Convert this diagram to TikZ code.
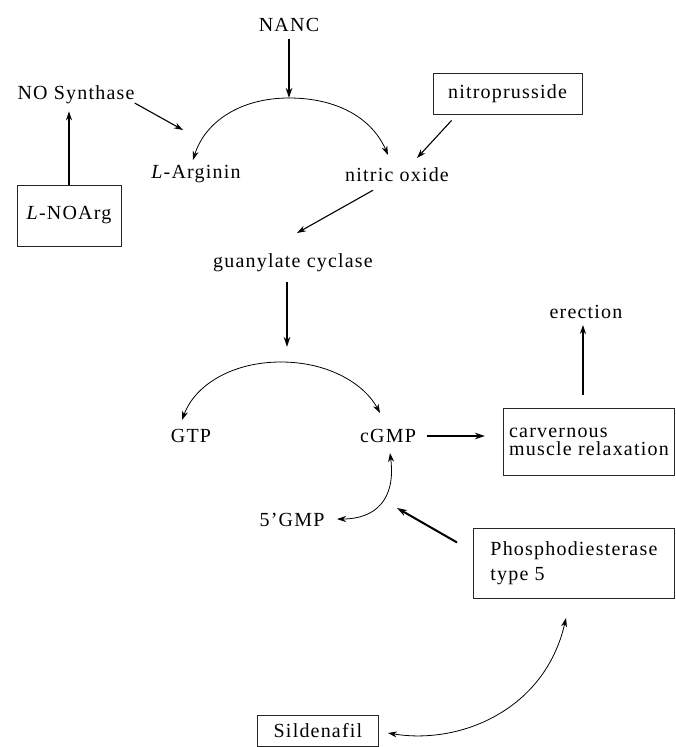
\documentclass[tikz,border=0pt]{standalone}
\usepackage{fontspec}
\setmainfont{Liberation Serif}[LetterSpace=6]
\usetikzlibrary{arrows.meta}
\begin{document}
\begin{tikzpicture}[x=1pt,y=-1pt,
  lbl/.style={inner sep=0pt, font=\fontsize{20}{20}\selectfont},
  box/.style={draw=black!85, line width=0.9pt, inner sep=0pt, font=\fontsize{20}{20}\selectfont},
  tip/.style={-{Stealth[length=9pt,width=6pt]}},
  medarrow/.style={tip, line width=1.1pt},
  thickarrow/.style={-{Stealth[length=10pt,width=6.5pt]}, line width=2pt},
  curvearrow/.style={tip, line width=0.8pt},
  twocurve/.style={{Stealth[length=9pt,width=6pt]}-{Stealth[length=9pt,width=6pt]}, line width=0.8pt}]
\useasboundingbox (0,0) rectangle (675,747);

% nodes
\node[lbl] (nanc) at (289,25) {NANC};
\node[lbl] (nos) at (76,95) {NO Synthase};
\node[lbl] (larg) at (196,174) {\textit{L}-Arginin};
\node[lbl] (nox) at (397,175) {nitric oxide};
\node[box, minimum width=149, minimum height=41] (nitro) at (507.5,93.5) {nitroprusside};
\node[box, minimum width=104, minimum height=61] (lnoarg) at (69,215.5) {\textit{L}-NOArg};
\node[lbl] (guan) at (293,263) {guanylate cyclase};
\node[lbl] (gtp) at (191,436) {GTP};
\node[lbl] (cgmp) at (388,436) {cGMP};
\node[lbl] (erect) at (586,312) {erection};
\node[box, anchor=north west, minimum width=171, minimum height=67, align=left, font=\fontsize{20}{18.5}\selectfont] (carv) at (503,408) {carvernous\\muscle relaxation};
\node[lbl] (gmp5) at (292,520) {5’GMP};
\node[box, anchor=north west, minimum width=201, minimum height=70, align=left, font=\fontsize{20}{25}\selectfont] (pde) at (473,528) {Phosphodiesterase\\type 5};
\node[box, anchor=north west, minimum width=121, minimum height=31] (sild) at (257,715) {Sildenafil};

% coordinates
\coordinate (top1) at (289,98);
\coordinate (argtip) at (193,160);
\coordinate (noxtip) at (388,155);
\coordinate (nosend) at (183,130);
\coordinate (nitrotip) at (417,158);
\coordinate (guantip) at (297,233);
\coordinate (gcend) at (287,347);
\coordinate (top2) at (281,362);
\coordinate (gtptip) at (182,420);
\coordinate (cgmptip) at (380,413);
\coordinate (cgmpup) at (390,453);
\coordinate (gmptip) at (337,519);
\coordinate (pdetip) at (397,508);
\coordinate (sildtip) at (388,733);
\coordinate (pdeup) at (566,618);

% connectors
\draw[thickarrow, shorten <=7pt] (nanc.south) -- (top1);
\draw[medarrow] ([yshift=-8pt]nos.east) -- (nosend);
\draw[medarrow, shorten >=7pt] (lnoarg.north) -- (lnoarg.north |- nos.south);
\draw[curvearrow] (top1) .. controls (240,98) and (205,122) .. (argtip);
\draw[curvearrow] (top1) .. controls (337,98) and (372,118) .. (noxtip);
\draw[medarrow] ([xshift=19pt,yshift=-6pt]nitro.south west) -- (nitrotip);
\draw[medarrow] ([xshift=-24pt,yshift=-8pt]nox.south) -- (guantip);
\draw[thickarrow] ([xshift=-6pt,yshift=-10pt]guan.south) -- (gcend);
\draw[curvearrow] (top2) .. controls (232,362) and (195,385) .. (gtptip);
\draw[curvearrow] (top2) .. controls (330,362) and (365,385) .. (cgmptip);
\draw[thickarrow, shorten <=11pt, shorten >=18pt] (cgmp.east) -- (cgmp.east -| carv.west);
\draw[medarrow, shorten <=13pt, shorten >=6pt] ([xshift=-6pt]carv.north) -- ([xshift=-6pt]carv.north |- erect.south);
\draw[twocurve] (cgmpup) .. controls (396,500) and (375,519) .. (gmptip);
\draw[thickarrow] ([xshift=-16pt,yshift=21pt]pde.west) -- (pdetip);
\draw[twocurve] (sildtip) .. controls (460,745) and (545,710) .. (pdeup);
\end{tikzpicture}
\end{document}
